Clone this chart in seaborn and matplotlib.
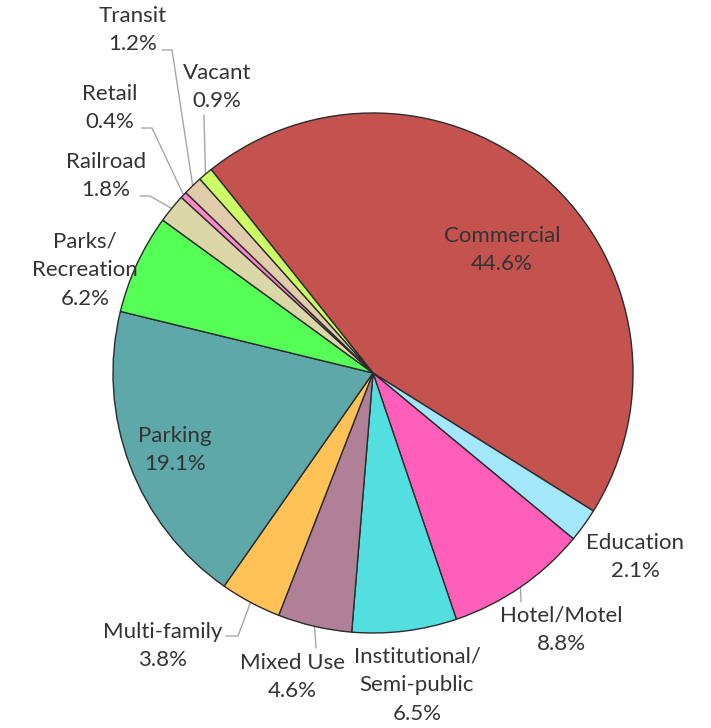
import numpy as np
import matplotlib
matplotlib.use('Agg')
import matplotlib.pyplot as plt
import seaborn as sns

# land use shares, clockwise from Commercial
categories = ['Commercial', 'Education', 'Hotel/Motel', 'Institutional/\nSemi-public',
              'Mixed Use', 'Multi-family', 'Parking', 'Parks/\nRecreation',
              'Railroad', 'Retail', 'Transit', 'Vacant']
shares = [44.6, 2.1, 8.8, 6.5, 4.6, 3.8, 19.1, 6.2, 1.8, 0.4, 1.2, 0.9]
colors = ['#C4524F', '#A3E7FA', '#FF5FB8', '#53DFDF', '#AF8096', '#FFC257',
          '#5FA8AA', '#55FF55', '#DBD7A8', '#FF88CC', '#E0CBAA', '#CCFF66']

W, H = 711, 728
CENTER = (373, 373)   # pixel coords (y down)
RADIUS = 260

# label centres in pixels (y down), and leader anchor/elbow points
label_pos = {
  'Commercial': (502, 250), 'Education': (635, 557), 'Hotel/Motel': (561, 630),
  'Institutional/\nSemi-public': (417, 685), 'Mixed Use': (292, 677),
  'Multi-family': (163, 646), 'Parking': (175, 450), 'Parks/\nRecreation': (85, 270),
  'Railroad': (106, 176), 'Retail': (110, 108), 'Transit': (133, 30), 'Vacant': (217, 87),
}
leaders = {
  'Transit': [(162, 50), (172, 50)],
  'Vacant': [(204, 115)],
  'Retail': [(142, 128), (152, 128)],
  'Railroad': [(140, 196), (150, 196)],
  'Multi-family': [(226, 636), (238, 636)],
  'Mixed Use': [(316, 648)],
  'Hotel/Motel': [(521, 602)],
}

sns.set_theme(style='white')
plt.rcParams['font.family'] = ['Lato', 'DejaVu Sans']

fig = plt.figure(figsize=(W / 100, H / 100), dpi=100)
ax = fig.add_axes([0, 0, 1, 1])

def px(p):
  return (p[0], H - p[1])

wedges, _ = ax.pie(shares, colors=colors, startangle=128.5, counterclock=False,
                   center=px(CENTER), radius=RADIUS, frame=True,
                   wedgeprops=dict(edgecolor='#2b2b2b', linewidth=1.0))
ax.set_xlim(0, W)
ax.set_ylim(0, H)
ax.set_aspect('equal')
ax.axis('off')

text_color = '#333333'
for w, cat, val in zip(wedges, categories, shares):
  x, y = px(label_pos[cat])
  ax.text(x, y, f'{cat}\n{val:.1f}%', ha='center', va='center', fontsize=16,
          color=text_color, linespacing=1.55)
  if cat in leaders:
    mid = np.deg2rad((w.theta1 + w.theta2) / 2)
    cx, cy = px(CENTER)
    arc = (cx + RADIUS * np.cos(mid), cy + RADIUS * np.sin(mid))
    pts = [px(p) for p in leaders[cat]] + [arc]
    ax.plot([p[0] for p in pts], [p[1] for p in pts], color='#A6A6A6', lw=1.0,
            zorder=0)

fig.savefig('out.png', dpi=100)
